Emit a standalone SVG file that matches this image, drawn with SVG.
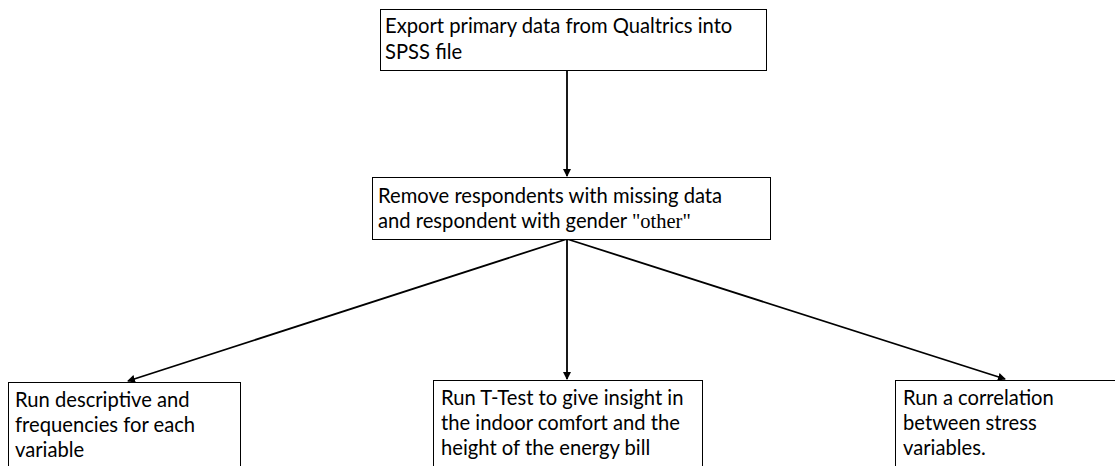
<svg xmlns="http://www.w3.org/2000/svg" width="1115" height="466" viewBox="0 0 1115 466">
<style>
.box{fill:#fff;stroke:#000;stroke-width:1}
.t{font-family:Lato,"Liberation Sans",sans-serif;font-size:20.2px;fill:#000}
.s{font-family:"Liberation Serif",serif;font-size:20.5px}
.c{stroke:#000;stroke-width:1.8;fill:none}
</style>
<defs>
<marker id="ah" markerWidth="8" markerHeight="8" refX="7" refY="4" orient="auto" markerUnits="userSpaceOnUse">
<path d="M0,0 L8,4 L0,8 Z" fill="#000"/>
</marker>
</defs>
<rect width="1115" height="466" fill="#fff"/>
<g id="connectors">
<line class="c" x1="567" y1="70" x2="567" y2="176" marker-end="url(#ah)"/>
<line class="c" x1="567" y1="239" x2="128" y2="381" marker-end="url(#ah)"/>
<line class="c" x1="567" y1="239" x2="567" y2="379" marker-end="url(#ah)"/>
<line class="c" x1="567" y1="239" x2="1005" y2="379" marker-end="url(#ah)"/>
</g>
<g id="n1">
<rect class="box" x="380.5" y="9.5" width="386" height="61"/>
<text class="t" x="385" y="33">Export primary data from Qualtrics into</text>
<text class="t" x="385" y="59">SPSS file</text>
</g>
<g id="n2">
<rect class="box" x="372.5" y="177.5" width="398" height="62"/>
<text class="t" x="378" y="203">Remove respondents with missing data</text>
<text class="t" x="378" y="228">and respondent with gender <tspan class="s">"other"</tspan></text>
</g>
<g id="n3">
<rect class="box" x="8.5" y="382.5" width="232" height="100"/>
<text class="t" x="15" y="407">Run descriptive and</text>
<text class="t" x="15" y="432">frequencies for each</text>
<text class="t" x="15" y="457">variable</text>
</g>
<g id="n4">
<rect class="box" x="433.5" y="380.5" width="269" height="100"/>
<text class="t" x="441" y="405">Run T-Test to give insight in</text>
<text class="t" x="441" y="430">the indoor comfort and the</text>
<text class="t" x="441" y="455">height of the energy bill</text>
</g>
<g id="n5">
<rect class="box" x="895.5" y="380.5" width="240" height="100"/>
<text class="t" x="903" y="405">Run a correlation</text>
<text class="t" x="903" y="430">between stress</text>
<text class="t" x="903" y="455">variables.</text>
</g>
</svg>
